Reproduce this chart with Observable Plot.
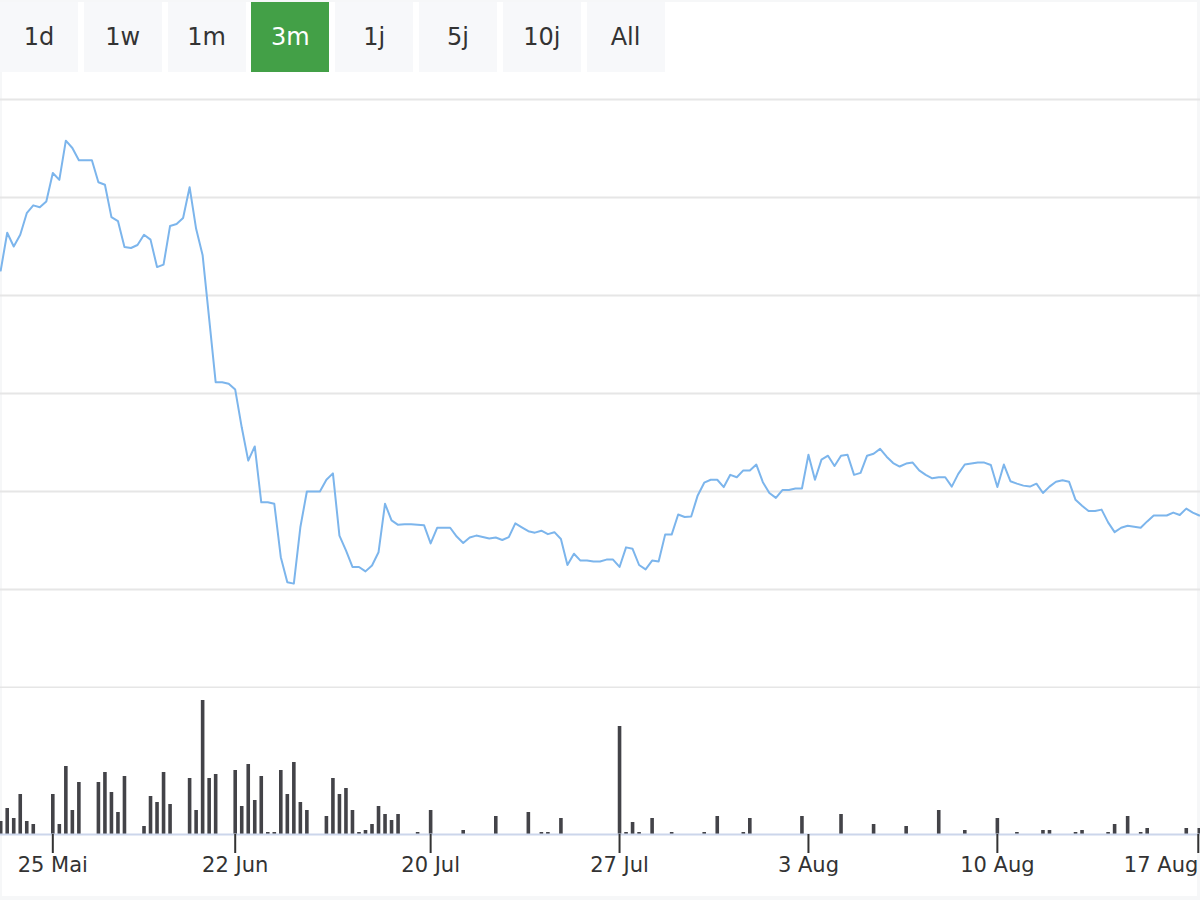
<!DOCTYPE html>
<html>
<head>
<meta charset="utf-8">
<script src="https://cdn.jsdelivr.net/npm/d3@7"></script>
<script src="https://cdn.jsdelivr.net/npm/@observablehq/plot@0.6"></script>
<style>
  html, body { margin: 0; padding: 0; }
  body { width: 1200px; height: 900px; background: #f6f7f8; position: relative; overflow: hidden; font-family: "DejaVu Sans", sans-serif; }
  #panel { position: absolute; left: 2px; top: 2px; width: 1195px; height: 894px; background: #ffffff; }
  .btn { position: absolute; top: 2px; height: 70px; width: 78px; background: #f7f8fa; color: #333; font-size: 24px;
         display: flex; align-items: center; justify-content: center; font-family: "DejaVu Sans", sans-serif; }
  .btn.active { background: #43a047; color: #ffffff; }
  .layer { position: absolute; left: 0; top: 0; }
  .layer svg { background: transparent; }
</style>
</head>
<body>
<div id="panel"></div>
<div id="price" class="layer"></div>
<div id="volume" class="layer"></div>
<div id="buttons"></div>
<script>
// Range buttons
const ranges = ["1d", "1w", "1m", "3m", "1j", "5j", "10j", "All"];
const activeRange = "3m";

// X-axis tick labels (index of the data point where each label sits)
const tickIdx = [8, 36, 66, 95, 124, 153, 182];
const tickLabels = ["25 Mai", "22 Jun", "20 Jul", "27 Jul", "3 Aug", "10 Aug", "17 Aug"];

// Price gridline values (hidden axis)
const gridVals = [10, 12, 14, 16, 18, 20, 22];

// Price series (one value per data point)
const price = [
  18.51, 19.28, 19.00, 19.24, 19.68, 19.84, 19.80, 19.92, 20.50, 20.36,
  21.16, 21.01, 20.76, 20.76, 20.76, 20.31, 20.26, 19.60, 19.52, 18.99,
  18.97, 19.03, 19.24, 19.14, 18.58, 18.63, 19.42, 19.46, 19.58, 20.21,
  19.36, 18.82, 17.53, 16.23, 16.23, 16.20, 16.08, 15.31, 14.63, 14.92,
  13.78, 13.78, 13.75, 12.66, 12.15, 12.12, 13.27, 14.00, 14.00, 14.00,
  14.24, 14.37, 13.10, 12.80, 12.46, 12.46, 12.37, 12.49, 12.76, 13.75,
  13.41, 13.32, 13.33, 13.33, 13.32, 13.31, 12.94, 13.26, 13.26, 13.26,
  13.08, 12.95, 13.06, 13.10, 13.07, 13.04, 13.06, 13.01, 13.07, 13.35,
  13.27, 13.19, 13.16, 13.20, 13.13, 13.17, 13.03, 12.50, 12.73, 12.59,
  12.59, 12.57, 12.57, 12.61, 12.61, 12.46, 12.86, 12.83, 12.50, 12.41,
  12.59, 12.57, 13.12, 13.12, 13.53, 13.48, 13.49, 13.92, 14.18, 14.24,
  14.24, 14.09, 14.34, 14.29, 14.43, 14.43, 14.55, 14.19, 13.97, 13.87,
  14.03, 14.03, 14.06, 14.06, 14.75, 14.24, 14.65, 14.73, 14.52, 14.73,
  14.75, 14.34, 14.38, 14.73, 14.77, 14.87, 14.71, 14.58, 14.51, 14.57,
  14.59, 14.43, 14.34, 14.27, 14.29, 14.29, 14.10, 14.36, 14.55, 14.57,
  14.59, 14.59, 14.54, 14.09, 14.55, 14.21, 14.16, 14.12, 14.10, 14.16,
  13.97, 14.10, 14.20, 14.23, 14.20, 13.83, 13.71, 13.60, 13.60, 13.63,
  13.37, 13.17, 13.26, 13.30, 13.28, 13.26, 13.39, 13.51, 13.51, 13.51,
  13.57, 13.52, 13.65, 13.57, 13.51
];

// Volume series (thousands, one value per data point)
const volume = [
  13, 26, 16, 40, 13, 10, 0, 0, 40, 10,
  68, 24, 52, 0, 0, 52, 62, 42, 22, 58,
  0, 0, 8, 38, 32, 62, 30, 0, 0, 56,
  24, 134, 56, 60, 0, 0, 64, 28, 70, 34,
  58, 2, 2, 64, 40, 72, 32, 24, 0, 0,
  18, 56, 40, 46, 24, 2, 4, 10, 28, 20,
  14, 20, 0, 0, 2, 0, 24, 0, 0, 0,
  0, 4, 0, 0, 0, 0, 18, 0, 0, 0,
  0, 22, 0, 2, 2, 0, 16, 0, 0, 0,
  0, 0, 0, 0, 0, 108, 2, 12, 2, 0,
  16, 0, 0, 2, 0, 0, 0, 0, 2, 0,
  18, 0, 0, 0, 2, 16, 0, 0, 0, 0,
  0, 0, 0, 18, 0, 0, 0, 0, 0, 20,
  0, 0, 0, 0, 10, 0, 0, 0, 0, 8,
  0, 0, 0, 0, 24, 0, 0, 0, 4, 0,
  0, 0, 0, 16, 0, 0, 2, 0, 0, 0,
  4, 4, 0, 0, 0, 2, 4, 0, 0, 0,
  2, 10, 0, 18, 0, 2, 6, 0, 0, 0,
  0, 0, 6, 0, 6
];

// Buttons
const btnBox = document.getElementById("buttons");
ranges.forEach((r, k) => {
  const b = document.createElement("div");
  b.className = "btn" + (r === activeRange ? " active" : "");
  b.style.left = (k * 83.8) + "px";
  b.textContent = r;
  btnBox.appendChild(b);
});

const xScale = {domain: [0, price.length - 1], range: [0.2, 1198.8]};

const pricePoints = price.map((v, i) => ({i, v}));
const pricePlot = Plot.plot({
  width: 1200,
  height: 688,
  marginTop: 99,
  marginBottom: 1,
  marginLeft: 0,
  marginRight: 0,
  style: {background: "transparent"},
  x: {...xScale, axis: null},
  y: {domain: [10, 22], axis: null},
  marks: [
    Plot.gridY(gridVals, {stroke: "#e6e6e6", strokeOpacity: 1, strokeWidth: 2}),
    Plot.lineY(pricePoints, {x: "i", y: "v", stroke: "#7cb5ec", strokeWidth: 2})
  ]
});
document.getElementById("price").appendChild(pricePlot);

const volPoints = volume.map((v, i) => ({i, v})).filter(d => d.v > 0);
const mainTicks = tickIdx.slice(0, -1);
const lastTick = tickIdx.slice(-1);
const volPlot = Plot.plot({
  width: 1200,
  height: 900,
  marginTop: 687,
  marginBottom: 66,
  marginLeft: 0,
  marginRight: 0,
  style: {background: "transparent", color: "#333", fontFamily: "DejaVu Sans"},
  x: {...xScale, label: null},
  y: {domain: [0, 147], axis: null},
  marks: [
    Plot.ruleX(volPoints, {x: "i", y1: 0, y2: "v", stroke: "#434348", strokeWidth: 3.6}),
    Plot.ruleY([0], {stroke: "#ccd6eb", strokeWidth: 2}),
    Plot.axisX(mainTicks, {
      label: null, tickSize: 19, tickPadding: 4, fontSize: 21, strokeWidth: 2,
      tickFormat: d => tickLabels[tickIdx.indexOf(d)]
    }),
    Plot.axisX(lastTick, {
      label: null, tickSize: 19, tickPadding: 4, fontSize: 21, strokeWidth: 2,
      textAnchor: "end", dx: 12,
      tickFormat: d => tickLabels[tickIdx.indexOf(d)]
    })
  ]
});
document.getElementById("volume").appendChild(volPlot);
</script>
</body>
</html>
